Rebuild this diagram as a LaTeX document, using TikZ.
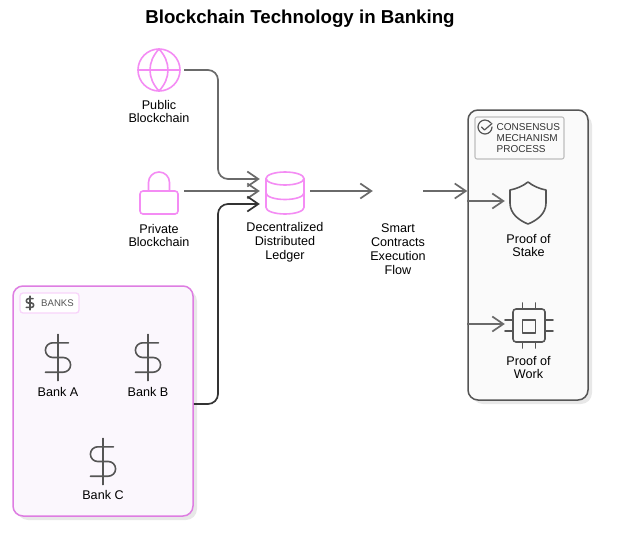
\documentclass[tikz,border=0pt]{standalone}
\usepackage{fontspec}
\setmainfont{Liberation Sans}
\usetikzlibrary{arrows.meta,calc}
\definecolor{pinkicon}{HTML}{F48CF4}
\definecolor{darkicon}{HTML}{555555}
\definecolor{connA}{HTML}{6A6A6A}
\definecolor{connB}{HTML}{333333}
\tikzset{
  iconbox/.style={minimum width=50pt,minimum height=50pt,inner sep=0pt,draw=none},
  lbl/.style={align=center,inner sep=0pt,font=\fontsize{12.6}{13.8}\selectfont,text=black},
  conn/.style={draw=connA,line width=1.7pt,rounded corners=10pt,-{Straight Barb[length=11pt,width=15pt,line width=1.7pt]}},
  pinkline/.style={draw=pinkicon,line width=1.6pt,line join=round,line cap=round},
  darkline/.style={draw=darkicon,line width=1.6pt,line join=round,line cap=round},
  shadowbox/.style={fill=black,fill opacity=.09,draw=none,rounded corners=11pt}
}
\newcommand{\dollarmark}[3]{%
  \begin{scope}[shift={(#1,#2)},x=#3pt,y=#3pt]
    \draw[darkline] (0,11) -- (0,-11);
    \draw[darkline] (5,7) -- (-2.5,7) .. controls (-4.43,7) and (-6,5.43) .. (-6,3.5)
      .. controls (-6,1.57) and (-4.43,0) .. (-2.5,0) -- (2.5,0)
      .. controls (4.43,0) and (6,-1.57) .. (6,-3.5)
      .. controls (6,-5.43) and (4.43,-7) .. (2.5,-7) -- (-6,-7);
  \end{scope}}
\begin{document}
\begin{tikzpicture}[x=1pt,y=-1pt]
\useasboundingbox (0,0) rectangle (625,557);
\fill[white] (0,0) rectangle (625,557);

\node[inner sep=0pt,font=\fontsize{18.7}{20}\selectfont\bfseries] (title) at (300,18.5) {Blockchain Technology in Banking};

% groups
\fill[shadowbox] (17,290) rectangle (197,520);
\node[draw={rgb,255:red,222;green,125;blue,226},fill={rgb,255:red,251;green,247;blue,253},line width=1.5pt,rounded corners=10pt,minimum width=180pt,minimum height=230pt,inner sep=0pt] (banks) at (103,401) {};
\node[draw={rgb,255:red,248;green,212;blue,250},fill=white,line width=1.3pt,rounded corners=3pt,minimum width=59pt,minimum height=20pt,inner sep=0pt] (bankslabel) at (49.5,303) {};
\dollarmark{30}{303}{0.62}
\node[inner sep=0pt,font=\fontsize{9.6}{10}\selectfont,text=darkicon,anchor=west] (bankstext) at (41,303) {BANKS};

\fill[shadowbox] (472,114) rectangle (592,404);
\node[draw=darkicon,fill={rgb,255:red,250;green,250;blue,250},line width=1.5pt,rounded corners=10pt,minimum width=120pt,minimum height=290pt,inner sep=0pt] (consensus) at (528,255) {};
\node[draw={rgb,255:red,190;green,190;blue,190},fill={rgb,255:red,250;green,250;blue,250},line width=1.1pt,rounded corners=2pt,minimum width=89pt,minimum height=42pt,inner sep=0pt] (conslabel) at (519.5,138) {};
\node[anchor=west,align=left,inner sep=0pt,font=\fontsize{10}{10.6}\selectfont,text=black!80] (constext) at (496.5,138) {CONSENSUS\\MECHANISM\\PROCESS};
\begin{scope}[darkline,line width=1.2pt]
  \draw (491,123) .. controls (489.5,121.3) and (487.4,120) .. (485,120)
    .. controls (481.1,120) and (478,123.1) .. (478,127)
    .. controls (478,130.9) and (481.1,134) .. (485,134)
    .. controls (488.9,134) and (492,130.9) .. (492,127);
  \draw (481.5,127) -- (484.5,130) -- (492,123.5);
\end{scope}

% icon nodes
\node[iconbox] (public) at (159,70) {};
\node[iconbox] (private) at (159,193) {};
\node[iconbox] (ledger) at (285,191) {};
\node[iconbox] (smart) at (398,191) {};
\node[iconbox] (stake) at (530,201) {};
\node[iconbox] (work) at (530,324) {};
\node[iconbox] (banka) at (58,358) {};
\node[iconbox] (bankb) at (148,358) {};
\node[iconbox] (bankc) at (103,461) {};

% globe
\begin{scope}[pinkline]
  \draw (138,70) .. controls (138,58.4) and (147.4,49) .. (159,49)
    .. controls (170.6,49) and (180,58.4) .. (180,70)
    .. controls (180,81.6) and (170.6,91) .. (159,91)
    .. controls (147.4,91) and (138,81.6) .. (138,70) -- cycle;
  \draw (138,70) -- (180,70);
  \draw (159,49) .. controls (147,62) and (147,78) .. (159,91) .. controls (171,78) and (171,62) .. (159,49);
\end{scope}
% lock
\begin{scope}[pinkline]
  \draw[rounded corners=3pt] (140,191) rectangle (178,214);
  \draw (148.5,191) -- (148.5,182.5) .. controls (148.5,176.7) and (153.2,172) .. (159,172)
    .. controls (164.8,172) and (169.5,176.7) .. (169.5,182.5) -- (169.5,191);
\end{scope}
% database
\begin{scope}[pinkline]
  \draw (266,178.5) .. controls (266,174.9) and (274.5,172) .. (285,172)
    .. controls (295.5,172) and (304,174.9) .. (304,178.5)
    .. controls (304,182.1) and (295.5,185) .. (285,185)
    .. controls (274.5,185) and (266,182.1) .. (266,178.5) -- cycle;
  \draw (266,178.5) -- (266,207.5) .. controls (266,211.1) and (274.5,214) .. (285,214)
    .. controls (295.5,214) and (304,211.1) .. (304,207.5) -- (304,178.5);
  \draw (266,193) .. controls (266,196.6) and (274.5,199.5) .. (285,199.5)
    .. controls (295.5,199.5) and (304,196.6) .. (304,193);
\end{scope}
% dollars
\dollarmark{58}{357.5}{2.1}
\dollarmark{148}{357.5}{2.1}
\dollarmark{103}{461.5}{2.1}
% shield
\draw[darkline] (528,182) .. controls (533,186) and (540,189) .. (546,190) -- (546,203)
  .. controls (546,213) and (538,220) .. (528,224)
  .. controls (518,220) and (510,213) .. (510,203) -- (510,190)
  .. controls (516,189) and (523,186) .. (528,182) -- cycle;
% chip
\begin{scope}[darkline]
  \draw[rounded corners=3pt] (513,309) rectangle (545,342);
  \draw (522.5,320) rectangle (535.5,333);
  \foreach \a in {522.5,535.5}{
    \draw (\a,303) -- (\a,309);
    \draw (\a,342) -- (\a,348);}
  \foreach \b in {320,331}{
    \draw (505,\b) -- (513,\b);
    \draw (545,\b) -- (553,\b);}
\end{scope}

% labels
\node[lbl] (publicl) at (159,111.5) {Public\\Blockchain};
\node[lbl] (privatel) at (159,235.5) {Private\\Blockchain};
\node[lbl] (ledgerl) at (285,242) {Decentralized\\Distributed\\Ledger};
\node[lbl] (smartl) at (398,249) {Smart\\Contracts\\Execution\\Flow};
\node[lbl] (stakel) at (528.5,245.5) {Proof of\\Stake};
\node[lbl] (workl) at (528.5,367.5) {Proof of\\Work};
\node[lbl] (bankal) at (58,392) {Bank A};
\node[lbl] (bankbl) at (148,392) {Bank B};
\node[lbl] (bankcl) at (103,495) {Bank C};

% connectors
\coordinate (inA) at ($(ledger.west)+(0,-12)$);
\coordinate (inC) at ($(ledger.west)+(0,13)$);
\coordinate (bus) at (218,0);
\coordinate (bankout) at ($(banks.east)+(0,3)$);
\coordinate (consin) at (consensus.west |- smart.east);
\draw[conn] (public.east) -- (public.east -| bus) -- (inA -| bus) -- (inA);
\draw[conn] (private.east |- ledger.west) -- (ledger.west);
\draw[conn,draw=connB] (bankout) -- (bankout -| bus) -- (inC -| bus) -- (inC);
\draw[conn] (ledger.east) -- (smart.west);
\draw[conn] (smart.east) -- (consin);
\draw[conn] (consensus.west |- stake.west) -- (stake.west);
\draw[conn] (consensus.west |- work.west) -- (work.west);
\end{tikzpicture}
\end{document}
